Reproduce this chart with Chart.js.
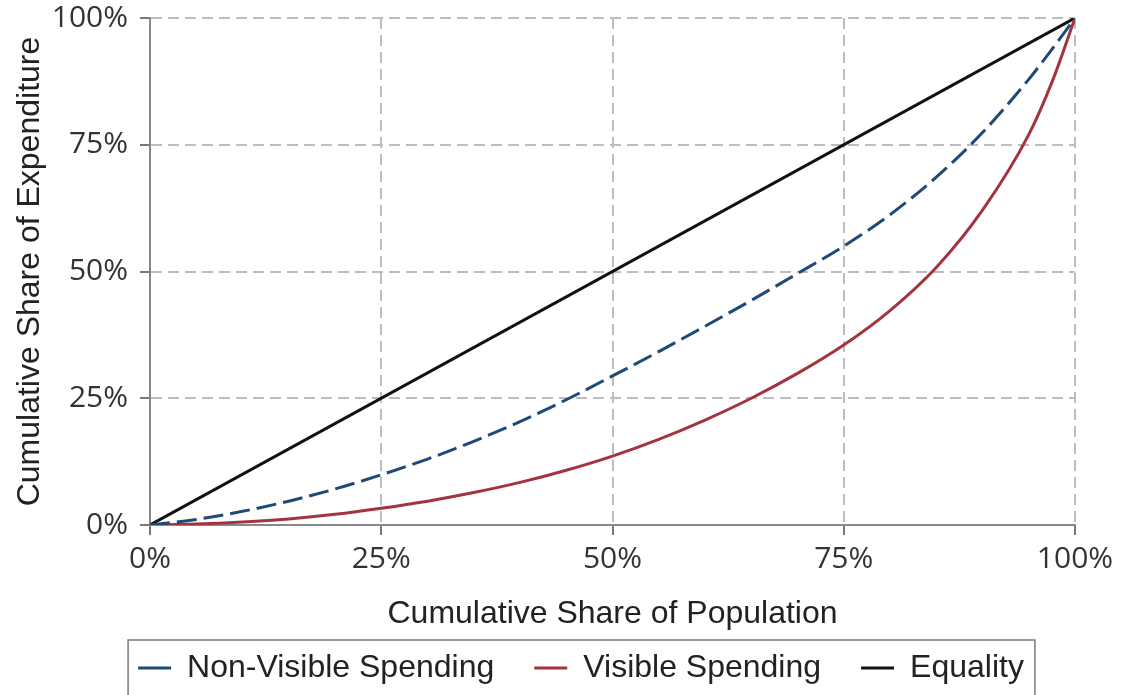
<!DOCTYPE html>
<html>
<head>
<meta charset="utf-8">
<script src="https://cdn.jsdelivr.net/npm/chart.js@4.4.1/dist/chart.umd.min.js"></script>
<style>
  html, body { margin: 0; padding: 0; background: #fff; }
  canvas { display: block; }
</style>
</head>
<body>
<canvas id="lorenzChart" width="1122" height="695"></canvas>
<script>
// cumulative share of population (%)
const popShare = [0, 5, 10, 15, 20, 25, 30, 35, 40, 45, 50, 55, 60, 65, 70, 75, 80, 85, 90, 95, 97.5, 100];
// cumulative share of expenditure (%)
const nonVisible = [0, 1.1, 2.7, 4.7, 7.1, 9.9, 13.0, 16.5, 20.4, 24.7, 29.4, 34.2, 39.2, 44.3, 49.6, 55.0, 61.2, 68.6, 77.4, 87.9, 93.8, 100];
const visible = [0, 0.2, 0.6, 1.2, 2.1, 3.3, 4.7, 6.4, 8.4, 10.8, 13.6, 16.9, 20.7, 25.0, 29.9, 35.5, 42.3, 50.8, 62.1, 77.0, 87.3, 100];
const equalityX = [0, 100];
const equalityY = [0, 100];
const tickValues = [0, 25, 50, 75, 100];

const toPoints = (xs, ys) => xs.map((x, i) => ({ x: x, y: ys[i] }));

const tickFont = { family: '"Open Sans", sans-serif', size: 30 };
const titleFont = { family: '"Liberation Sans", Arial, sans-serif', size: 32 };

// moves the legend under the chart and draws the frame round it
const legendFrame = {
    id: 'legendFrame',
    afterLayout(chart) {
        const lg = chart.legend;
        lg.left = 40;
        lg.right = chart.width;
        lg.top = 612;
        lg.bottom = chart.height;
    },
    afterDraw(chart) {
        const boxes = chart.legend.legendHitBoxes;
        if (!boxes || !boxes.length) return;
        const first = boxes[0];
        const last = boxes[boxes.length - 1];
        const ctx = chart.ctx;
        ctx.save();
        ctx.strokeStyle = '#7a7a7a';
        ctx.lineWidth = 1.5;
        ctx.strokeRect(first.left - 10, first.top - 12, last.left + last.width - first.left + 21, 80);
        ctx.restore();
    }
};

const gridColor = ctx => ctx.tick && ctx.tick.value === 0 ? 'rgba(0,0,0,0)' : '#bdbdbd';

new Chart(document.getElementById('lorenzChart'), {
    type: 'line',
    data: {
        datasets: [{
            label: 'Non-Visible Spending',
            data: toPoints(popShare, nonVisible),
            borderColor: '#1f4a78',
            borderWidth: 3,
            borderDash: [20, 7],
            cubicInterpolationMode: 'monotone',
            pointRadius: 0
        }, {
            label: 'Visible Spending',
            data: toPoints(popShare, visible),
            borderColor: '#a3343e',
            borderWidth: 3,
            cubicInterpolationMode: 'monotone',
            pointRadius: 0
        }, {
            label: 'Equality',
            data: toPoints(equalityX, equalityY),
            borderColor: '#111111',
            borderWidth: 3,
            pointRadius: 0
        }]
    },
    options: {
        responsive: false,
        animation: false,
        layout: { padding: { top: 18, left: 0, right: 0, bottom: 0 } },
        plugins: {
            tooltip: { enabled: false },
            legend: {
                position: 'bottom',
                maxHeight: 55,
                labels: {
                    usePointStyle: true,
                    pointStyle: 'line',
                    pointStyleWidth: 33,
                    padding: 40,
                    color: '#222',
                    font: titleFont
                }
            }
        },
        scales: {
            x: {
                type: 'linear',
                min: 0,
                max: 100,
                afterBuildTicks: scale => { scale.ticks = tickValues.map(v => ({ value: v })); },
                afterFit: scale => { scale.height = 115; scale.paddingRight = 47; },
                ticks: {
                    color: '#333',
                    font: tickFont,
                    padding: 6,
                    maxRotation: 0,
                    callback: v => v + '%'
                },
                grid: { color: gridColor, lineWidth: 2, tickLength: 10, tickColor: '#777', tickWidth: 2 },
                border: { color: '#888', width: 2, dash: [11, 6] },
                title: {
                    display: true,
                    text: 'Cumulative Share of Population',
                    color: '#222',
                    font: titleFont,
                    padding: { top: 0, bottom: 7 }
                }
            },
            y: {
                type: 'linear',
                min: 0,
                max: 100,
                afterBuildTicks: scale => { scale.ticks = tickValues.map(v => ({ value: v })); },
                afterFit: scale => { scale.width = 150; scale.paddingTop = 0; scale.paddingBottom = 0; },
                ticks: {
                    color: '#333',
                    font: tickFont,
                    padding: 12,
                    callback: v => v + '%'
                },
                grid: { color: gridColor, lineWidth: 2, tickLength: 10, tickColor: '#777', tickWidth: 2 },
                border: { color: '#888', width: 2, dash: [11, 6] },
                title: {
                    display: true,
                    text: 'Cumulative Share of Expenditure',
                    color: '#222',
                    font: titleFont,
                    padding: { top: 11, bottom: 0 }
                }
            }
        }
    },
    plugins: [legendFrame]
});
</script>
</body>
</html>
